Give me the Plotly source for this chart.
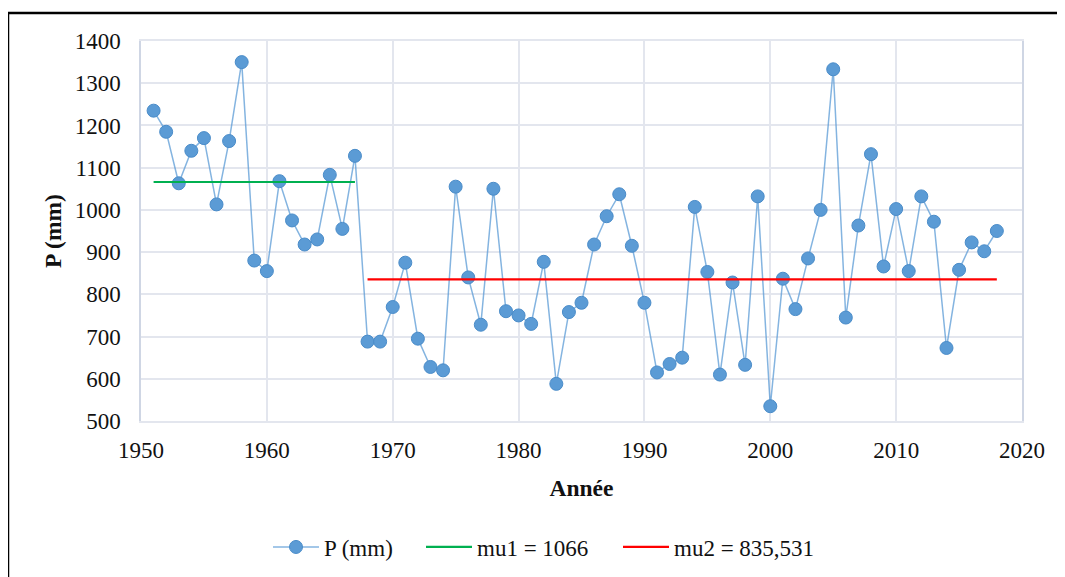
import plotly.graph_objects as go

years = list(range(1951, 2019))
precip = [1235, 1185, 1063, 1140, 1170, 1013, 1163, 1350, 880, 855,
          1068, 975, 918, 930, 1083, 955, 1128, 688, 688, 770,
          875, 695, 628, 620, 1055, 840, 728, 1050, 760, 750,
          730, 877, 588, 758, 780, 918, 985, 1037, 915, 780,
          615, 635, 650, 1007, 853, 610, 828, 633, 1032, 535,
          837, 765, 885, 1000, 1333, 745, 963, 1132, 866, 1002,
          855, 1032, 972, 673, 858, 923, 902, 950]

mu1_years = [1951, 1967]
mu1_value = 1066
mu2_years = [1968, 2018]
mu2_value = 835.531

FONT = "Liberation Serif"

fig = go.Figure()
fig.add_trace(go.Scatter(
    x=years, y=precip, mode="lines+markers", name="P (mm)", legend="legend",
    line=dict(color="rgba(91,155,213,0.75)", width=1.5),
    marker=dict(color="#5b9bd5", size=13, line=dict(color="#4a8cc9", width=1)),
))
fig.add_trace(go.Scatter(
    x=mu1_years, y=[mu1_value] * 2, mode="lines", name="mu1 = 1066", legend="legend2",
    line=dict(color="#00b050", width=2.2),
))
fig.add_trace(go.Scatter(
    x=mu2_years, y=[mu2_value] * 2, mode="lines", name="mu2 = 835,531", legend="legend3",
    line=dict(color="#ff0000", width=2.2),
))

def leg(px):
    return dict(orientation="h", x=(px - 5 - 141) / 881, xanchor="left", y=-0.3316,
                yanchor="middle", font=dict(family=FONT, size=23, color="#111111"),
                itemwidth=46, bgcolor="rgba(0,0,0,0)")

grid = "#e3e6ee"
fig.update_layout(
    width=1065, height=577,
    margin=dict(l=133, r=51, t=33, b=164),
    paper_bgcolor="white", plot_bgcolor="white",
    font=dict(family=FONT, size=23, color="#111111"),
    showlegend=True,
    legend=leg(273), legend2=leg(426), legend3=leg(623),
    xaxis=dict(range=[1950, 2020], dtick=10, tick0=1950, showgrid=True, gridcolor=grid,
               gridwidth=1.5, showline=True, linecolor=grid, linewidth=1.5, mirror=True,
               zeroline=False, ticks="outside", ticklen=8, tickcolor="rgba(0,0,0,0)",
               tickfont=dict(family=FONT, size=23),
               title=dict(text="<b>Année</b>", font=dict(family=FONT, size=23.5), standoff=17)),
    yaxis=dict(range=[500, 1400], dtick=100, showgrid=True, gridcolor=grid, gridwidth=1.5,
               showline=True, linecolor="#cfd6e4", linewidth=1.5, mirror=True,
               zeroline=False, ticks="outside", ticklen=14, tickcolor="rgba(0,0,0,0)",
               tickfont=dict(family=FONT, size=23),
               title=dict(text="<b>P (mm)</b>", font=dict(family=FONT, size=23.5), standoff=6)),
    shapes=[dict(type="rect", xref="paper", yref="paper",
                 x0=(8 - 141) / 881, x1=(1090 - 141) / 881,
                 y0=(421 - 620) / 380, y1=(421 - 13) / 380,
                 line=dict(color="black", width=2.5), fillcolor="rgba(0,0,0,0)", layer="below")],
)

fig.write_html("out.html")
